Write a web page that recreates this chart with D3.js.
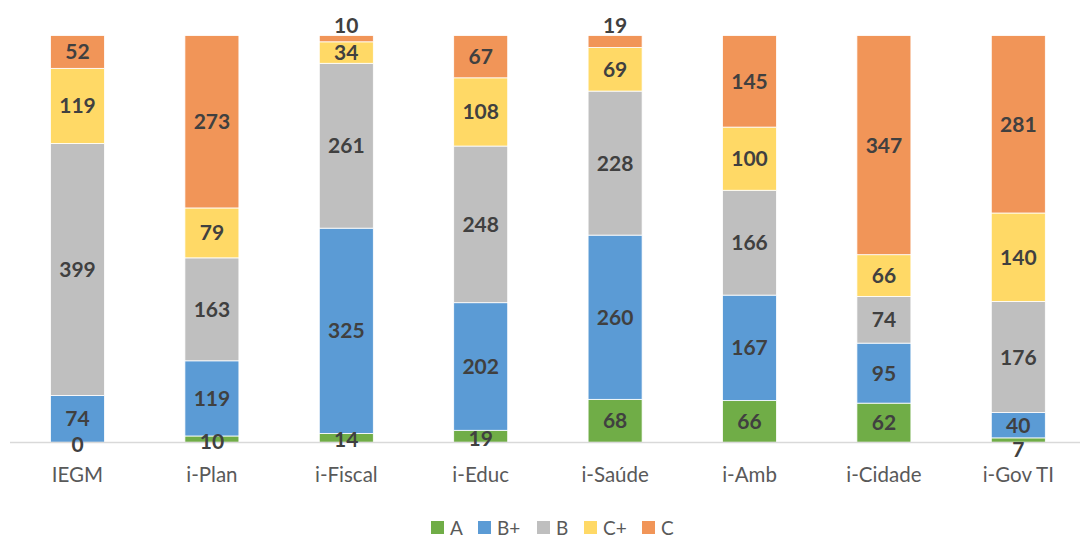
<!DOCTYPE html>
<html><head><meta charset="utf-8">
<script src="https://cdn.jsdelivr.net/npm/d3@7"></script>
<style>body{margin:0;background:#fff}svg{display:block}</style>
</head><body>
<svg id="chart" width="1080" height="541"></svg>
<script>
const categories = ["IEGM","i-Plan","i-Fiscal","i-Educ","i-Saúde","i-Amb","i-Cidade","i-Gov TI"];
const seriesNames = ["A","B+","B","C+","C"];
const valuesA  = [0,10,14,19,68,66,62,7];
const valuesBp = [74,119,325,202,260,167,95,40];
const valuesB  = [399,163,261,248,228,166,74,176];
const valuesCp = [119,79,34,108,69,100,66,140];
const valuesC  = [52,273,10,67,19,145,347,281];
const colors = ["#70AD47","#5B9BD5","#BFBFBF","#FFD966","#F19558"];

const seriesValues = [valuesA, valuesBp, valuesB, valuesCp, valuesC];
const table = categories.map((c,i)=>{const o={cat:c}; seriesNames.forEach((s,j)=>o[s]=seriesValues[j][i]); return o;});
const stacked = d3.stack().keys(seriesNames)(table);
const maxTotal = d3.max(table, d=>d3.sum(seriesNames, s=>d[s]));

const svg = d3.select("#chart");
const x = d3.scaleBand().domain(categories).range([10.3,1085.5]).paddingInner(0.598).paddingOuter(0.299);
const y = d3.scaleLinear().domain([0,maxTotal]).range([442.3,35.5]);

const g = svg.append("g");
stacked.forEach((layer,j)=>{
  g.selectAll(null).data(layer).enter().append("rect")
    .attr("x", d=>x(d.data.cat))
    .attr("width", x.bandwidth())
    .attr("y", d=>y(d[1]))
    .attr("height", d=>y(d[0])-y(d[1]))
    .attr("fill", colors[j])
    .attr("stroke","#fff").attr("stroke-width",0.8);
});

// axis line
svg.append("line").attr("x1",10).attr("x2",1085).attr("y1",442.5).attr("y2",442.5)
  .attr("stroke","#D9D9D9").attr("stroke-width",1.3);

// category labels
const xAxis = d3.axisBottom(x).tickSize(0).tickPadding(0);
const ax = svg.append("g").attr("transform","translate(0,442)").call(xAxis);
ax.select(".domain").remove();
ax.selectAll("text").attr("font-family","Lato, 'Open Sans', sans-serif").attr("font-size","20.5px")
  .attr("fill","#595959").attr("dy",null).attr("y",39.5).attr("dominant-baseline","alphabetic");

// value labels
const lab = svg.append("g").attr("font-family","Lato, 'Open Sans', sans-serif").attr("font-weight","bold")
  .attr("font-size","21px").attr("fill","#404040").attr("text-anchor","middle");
stacked.forEach((layer,j)=>{
  layer.forEach(d=>{
    const v = d[1]-d[0];
    const h = y(d[0])-y(d[1]);
    let cy = (y(d[0])+y(d[1]))/2;
    if (j===seriesNames.length-1 && h<15) cy = y(d[1]) - 10;
    if (j===0 && h<15) cy = cy + 2 + (v>0 && h<6 ? 7 : 0);
    lab.append("text").attr("x", x(d.data.cat)+x.bandwidth()/2).attr("y", cy+7.5).text(v);
  });
});

// legend
const legendX = [431,478,537,584,642];
const leg = svg.append("g");
seriesNames.forEach((s,j)=>{
  leg.append("rect").attr("x",legendX[j]).attr("y",521).attr("width",13).attr("height",13).attr("fill",colors[j]);
  leg.append("text").attr("x",legendX[j]+19).attr("y",534.5).text(s)
    .attr("font-family","Lato, 'Open Sans', sans-serif").attr("font-size","19px").attr("fill","#595959");
});
</script>
</body></html>
